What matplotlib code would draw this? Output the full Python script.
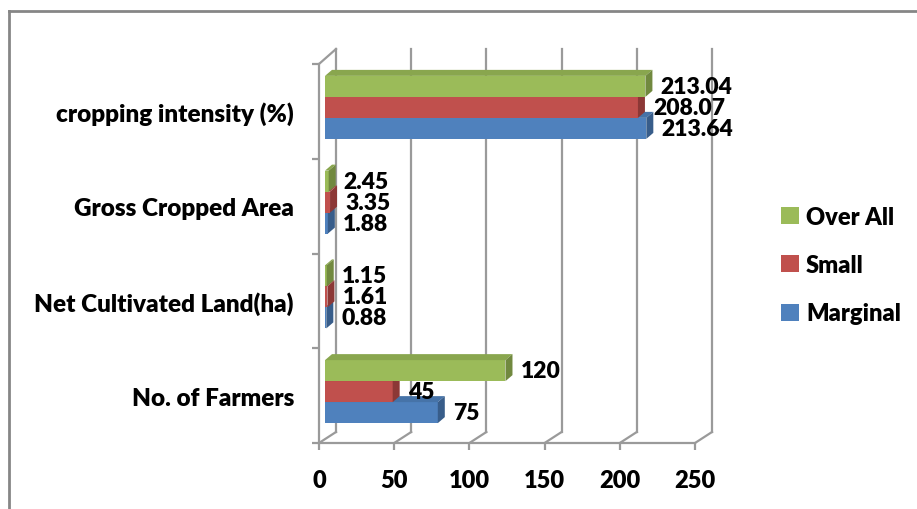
import matplotlib
matplotlib.use('Agg')
import matplotlib.pyplot as plt
from matplotlib.patches import Polygon, Patch
from matplotlib.lines import Line2D

plt.rcParams['font.family'] = ['Lato', 'DejaVu Sans']
BOLD = 800

categories = ['No. of Farmers', 'Net Cultivated Land(ha)', 'Gross Cropped Area', 'cropping intensity (%)']
series = ['Marginal', 'Small', 'Over All']
marginal = [75, 0.88, 1.88, 213.64]
small = [45, 1.61, 3.35, 208.07]
overall = [120, 1.15, 2.45, 213.04]
labels = [['75', '0.88', '1.88', '213.64'],
          ['45', '1.61', '3.35', '208.07'],
          ['120', '1.15', '2.45', '213.04']]
xticks = [0, 50, 100, 150, 200, 250]

colors = ['#4F81BD', '#C0504D', '#9BBB59']
tops = ['#4673A8', '#A94643', '#89A64E']
sides = ['#385D8A', '#8C3836', '#71893F']
grid_c = '#9a9a9a'

W, H = 917, 510
fig = plt.figure(figsize=(W / 100, H / 100), dpi=100)
# front plane of the 3d box, in pixels
x0, x1, yb, yt = 319, 695, 444, 65
ax = fig.add_axes([x0 / W, (H - yb) / H, (x1 - x0) / W, (yb - yt) / H])
ax.set_xlim(0, 250)
ax.set_ylim(0, 4)
px_x = (x1 - x0) / 250.0
px_y = (yb - yt) / 4.0

# back wall
bdx, bdy = 17 / px_x, 11 / px_y
btop = (yb - 50) / px_y
for v in xticks:
    ax.plot([v + bdx, v + bdx], [bdy, btop], color=grid_c, lw=1.6, clip_on=False, zorder=1)
    ax.plot([v, v + bdx], [0, bdy], color=grid_c, lw=1.6, clip_on=False, zorder=1)
ax.plot([0, bdx], [4, btop], color=grid_c, lw=1.6, clip_on=False, zorder=1)

for s in ['top', 'right']:
    ax.spines[s].set_visible(False)
for s in ['left', 'bottom']:
    ax.spines[s].set_color(grid_c)
    ax.spines[s].set_linewidth(1.6)

ax.set_xticks(xticks)
ax.set_xticklabels([str(v) for v in xticks], fontsize=17, fontweight=BOLD)
ax.tick_params(axis='x', length=5, color=grid_c, width=1.6, pad=14)
ax.set_yticks([0.5, 1.5, 2.5, 3.5])
ax.set_yticklabels(categories, fontsize=17.5, fontweight=BOLD)
ax.tick_params(axis='y', which='major', length=0, pad=18)
ax.set_yticks([0, 1, 2, 3, 4], minor=True)
ax.tick_params(axis='y', which='minor', length=5, color=grid_c, width=1.6)

# bars
off_x, off_y = 6 / px_x, 4 / px_y
h = 21 / px_y
ddx, ddy = 7 / px_x, 6 / px_y
data = [marginal, small, overall]
for i in range(len(categories)):
    for j in range(3):
        v = data[j][i]
        yc = i + 0.5 + off_y + (j - 1) * h
        z = 3 + i * 3 + j
        ax.barh(yc, v, height=h, left=off_x, color=colors[j], zorder=z)
        bot, top = yc - h / 2, yc + h / 2
        r = off_x + v
        ax.add_patch(Polygon([(off_x, top), (off_x + ddx, top + ddy), (r + ddx, top + ddy), (r, top)],
                             closed=True, facecolor=tops[j], edgecolor='none', zorder=z, clip_on=False))
        ax.add_patch(Polygon([(r, bot), (r, top), (r + ddx, top + ddy), (r + ddx, bot + ddy)],
                             closed=True, facecolor=sides[j], edgecolor='none', zorder=z, clip_on=False))
        ax.text(r + ddx + 8 / px_x, yc, labels[j][i], fontsize=16.5, fontweight=BOLD,
                ha='left', va='center', zorder=30)

handles = [Patch(facecolor=colors[j], label=series[j]) for j in [2, 1, 0]]
fig.legend(handles=handles, loc='center left', bbox_to_anchor=(760 / W, (H - 266) / H),
           frameon=False, handlelength=0.75, handleheight=0.75,
           handletextpad=0.3, labelspacing=1.12, prop={'weight': BOLD, 'size': 17})

# chart border
fig.add_artist(Line2D([8.5 / W, 1], [1 - 11.5 / H, 1 - 11.5 / H], color='#868686', lw=2))
fig.add_artist(Line2D([8.5 / W, 8.5 / W], [0, 1 - 11.5 / H], color='#868686', lw=2))

fig.savefig('out.png', dpi=100)
